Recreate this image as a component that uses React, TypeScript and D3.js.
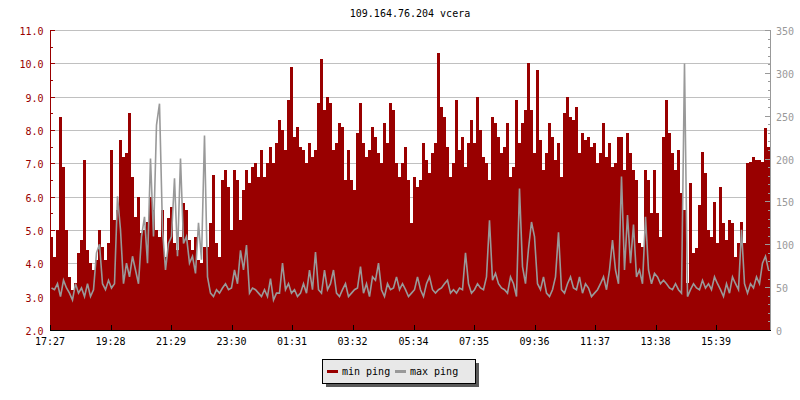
import React from 'react';
import * as d3 from 'd3';

const TITLE = '109.164.76.204 vcera';
const START_LABEL = '17:27';
const STEP_MINUTES = 6;
const DAY_MINUTES = 1440;

const timeLabels = ['17:27', '19:28', '21:29', '23:30', '01:31', '03:32', '05:34', '07:35', '09:36', '11:37', '13:38', '15:39'];
const leftTickValues = [2, 3, 4, 5, 6, 7, 8, 9, 10, 11];
const rightTickValues = [0, 50, 100, 150, 200, 250, 300, 350];
const legendLabels = ['min ping', 'max ping'];

// min ping (left axis), one value per 6 minutes
const minPing = [
  4.8, 4.2, 5.0, 8.4, 6.9, 5.0, 3.6, 3.2, 3.4, 4.3,
  4.7, 7.1, 4.4, 4.0, 3.8, 4.1, 5.0, 4.5, 4.1, 4.6,
  7.4, 5.3, 5.6, 7.7, 7.2, 7.3, 8.5, 6.6, 5.4, 6.0,
  4.9, 5.0, 5.25, 6.0, 5.6, 5.0, 4.8, 5.6, 4.2, 5.35,
  5.7, 4.6, 4.4, 4.8, 5.8, 5.6, 4.7, 4.4, 4.8, 4.1,
  4.0, 4.5, 4.5, 5.2, 6.65, 4.6, 4.2, 6.5, 6.8, 6.3,
  5.0, 6.8, 6.5, 5.3, 6.2, 6.8, 6.4, 6.9, 7.0, 6.6,
  7.4, 6.6, 7.0, 7.5, 7.0, 7.6, 8.3, 8.0, 7.4, 8.9,
  9.9, 7.8, 8.1, 7.5, 7.4, 7.0, 7.6, 7.2, 7.4, 8.8,
  10.13, 8.6, 9.0, 8.8, 7.4, 7.6, 8.2, 8.1, 6.5, 7.4,
  6.5, 6.2, 7.9, 8.8, 7.6, 7.2, 7.4, 8.1, 7.8, 7.3,
  7.0, 8.2, 7.6, 8.8, 8.6, 7.0, 6.6, 7.0, 7.5, 6.5,
  5.2, 6.6, 6.3, 6.5, 7.6, 7.1, 6.7, 7.3, 7.6, 10.3,
  8.7, 8.4, 7.5, 6.6, 7.0, 8.9, 7.4, 7.8, 6.9, 7.6,
  8.3, 7.6, 9.0, 8.0, 7.2, 7.0, 6.5, 8.4, 8.2, 7.8,
  7.3, 7.5, 8.2, 6.6, 6.9, 8.9, 7.6, 8.2, 8.6, 10.0,
  8.6, 7.3, 9.8, 7.7, 6.8, 7.3, 8.2, 7.8, 7.1, 7.6,
  6.6, 8.5, 9.0, 8.4, 8.3, 8.7, 7.3, 7.9, 7.7, 7.8,
  7.5, 7.6, 7.0, 7.3, 8.2, 7.2, 7.6, 6.9, 7.0, 7.8,
  7.8, 6.8, 7.9, 7.3, 6.8, 6.5, 4.6, 4.5, 6.8, 6.5,
  5.5, 6.8, 5.5, 4.8, 7.8, 8.9, 7.9, 7.3, 6.8, 7.4,
  6.1, 5.6, 3.4, 6.4, 4.3, 4.45, 5.75, 7.35, 6.7, 5.0,
  4.8, 5.85, 4.6, 6.3, 5.2, 4.7, 5.3, 5.2, 4.2, 4.6,
  5.25, 4.6, 7.0, 7.05, 7.2, 7.1, 7.1, 7.05, 8.05, 7.5,
];

// max ping (right axis), one value per 6 minutes
const maxPing = [
  49, 47, 54, 39, 58, 49, 43, 35, 54, 43,
  49, 39, 54, 39, 47, 90, 100, 54, 47, 58,
  49, 54, 156, 117, 54, 78, 62, 86, 70, 54,
  109, 132, 78, 200, 109, 239, 264, 117, 70, 101,
  109, 177, 86, 200, 101, 109, 78, 86, 66, 125,
  82, 227, 62, 43, 39, 47, 43, 49, 54, 47,
  49, 70, 54, 93, 70, 99, 43, 49, 47, 43,
  39, 47, 39, 60, 35, 43, 43, 78, 47, 54,
  43, 47, 39, 43, 54, 43, 70, 47, 91, 47,
  43, 70, 47, 54, 70, 43, 39, 47, 54, 39,
  43, 47, 49, 74, 43, 54, 39, 62, 58, 78,
  47, 39, 54, 47, 49, 62, 47, 54, 47, 39,
  43, 47, 62, 47, 39, 54, 62, 47, 43, 47,
  49, 54, 58, 43, 47, 43, 49, 47, 90, 54,
  43, 47, 54, 49, 47, 62, 128, 58, 66, 54,
  49, 47, 43, 62, 54, 39, 165, 74, 54, 95,
  126, 109, 54, 47, 62, 43, 39, 47, 62, 114,
  47, 43, 54, 62, 49, 47, 62, 43, 54, 49,
  39, 43, 47, 54, 62, 47, 70, 105, 70, 54,
  179, 70, 134, 78, 123, 62, 70, 54, 132, 70,
  54, 66, 62, 54, 58, 54, 49, 47, 54, 47,
  43, 311, 39, 47, 54, 49, 47, 58, 49, 54,
  47, 62, 54, 47, 39, 54, 43, 62, 54, 47,
  117, 54, 43, 54, 49, 62, 54, 78, 86, 70,
];

const RED = '#990000';
const GRAY = '#999999';
const FONT = '"DejaVu Sans Mono", "Liberation Mono", monospace';

const W = 800;
const H = 400;
const PL = 50;
const PR = 770;
const PT = 30;
const PB = 330;

const toMin = (t: string) => {
  const [h, m] = t.split(':').map(Number);
  return h * 60 + m;
};

export default function App() {
  const x = d3.scaleLinear().domain([0, DAY_MINUTES]).range([PL, PR]);
  const yL = d3.scaleLinear().domain([2, 11]).range([PB, PT]);
  const yR = d3.scaleLinear().domain([0, 350]).range([PB, PT]);
  const start = toMin(START_LABEL);
  const tickMins = timeLabels.map((t) => (toMin(t) - start + DAY_MINUTES) % DAY_MINUTES);
  const snap = (v: number) => Math.round(v) + 0.5;

  const leftMinor = d3.range(2.5, 11, 1);
  const rightMinor = d3.range(0, 351, 10).filter((v) => v % 50 !== 0);

  const line = d3
    .line<number>()
    .x((_, i) => x(i * STEP_MINUTES + STEP_MINUTES / 2))
    .y((d) => yR(d))
    .curve(d3.curveLinear);

  const legendX = 322.5;
  const legendY = 359.5;
  const legendW = 153;
  const legendH = 24;

  return (
    <svg
      width={W}
      height={H}
      style={{ position: 'absolute', left: 0, top: 0, background: '#fff' }}
      fontFamily={FONT}
      fontSize={10}
    >
      <rect x={0} y={0} width={W} height={H} fill="#fff" />
      <text x={(PL + PR) / 2} y={16.5} textAnchor="middle" fill="#000">
        {TITLE}
      </text>

      {/* grid */}
      <g shapeRendering="crispEdges">
        {leftTickValues.map((v) => (
          <line key={'g' + v} x1={PL} x2={PR} y1={snap(yL(v))} y2={snap(yL(v))} stroke="#c0c0c0" />
        ))}
      </g>

      {/* min ping bars */}
      <g shapeRendering="crispEdges" fill={RED}>
        {minPing.map((v, i) => {
          const x0 = x(i * STEP_MINUTES);
          const x1 = x((i + 1) * STEP_MINUTES);
          const y0 = Math.round(yL(v));
          return <rect key={i} x={x0} y={y0} width={x1 - x0} height={PB + 1 - y0} />;
        })}
      </g>

      {/* max ping line */}
      <path d={line(maxPing) || ''} fill="none" stroke={GRAY} strokeWidth={1.6} strokeLinejoin="miter" />

      {/* left axis */}
      <g shapeRendering="crispEdges">
        <line x1={PL + 0.5} x2={PL + 0.5} y1={PT} y2={PB + 1} stroke={RED} />
        {leftTickValues.map((v) => (
          <line key={'lt' + v} x1={PL} x2={PL + 5} y1={snap(yL(v))} y2={snap(yL(v))} stroke={RED} />
        ))}
        {leftMinor.map((v) => (
          <line key={'lm' + v} x1={PL} x2={PL + 3} y1={snap(yL(v))} y2={snap(yL(v))} stroke={RED} />
        ))}
      </g>
      {leftTickValues.map((v) => (
        <text key={'ll' + v} x={43.5} y={snap(yL(v)) + 4} textAnchor="end" fill={RED}>
          {d3.format('.1f')(v)}
        </text>
      ))}

      {/* right axis */}
      <g shapeRendering="crispEdges">
        <line x1={PR + 0.5} x2={PR + 0.5} y1={PT} y2={PB + 1} stroke={GRAY} />
        {rightTickValues.map((v) => (
          <line key={'rt' + v} x1={PR - 5} x2={PR + 1} y1={snap(yR(v))} y2={snap(yR(v))} stroke={GRAY} />
        ))}
        {rightMinor.map((v) => (
          <line key={'rm' + v} x1={PR - 2} x2={PR + 1} y1={snap(yR(v))} y2={snap(yR(v))} stroke={GRAY} />
        ))}
      </g>
      {rightTickValues.map((v) => (
        <text key={'rl' + v} x={776} y={snap(yR(v)) + 4} textAnchor="start" fill={GRAY}>
          {String(v)}
        </text>
      ))}

      {/* bottom axis */}
      <g shapeRendering="crispEdges">
        <line x1={PL} x2={PR + 1} y1={PB + 0.5} y2={PB + 0.5} stroke="#000" />
        {tickMins.map((m, i) => (
          <line key={'xt' + i} x1={snap(x(m))} x2={snap(x(m))} y1={PB - 5} y2={PB + 1} stroke="#000" />
        ))}
      </g>
      {tickMins.map((m, i) => (
        <text key={'xl' + i} x={x(m)} y={345} textAnchor="middle" fill="#000">
          {timeLabels[i]}
        </text>
      ))}

      {/* legend */}
      <g shapeRendering="crispEdges">
        <rect x={legendX + 3} y={legendY + 3} width={legendW} height={legendH} fill="#5a5a5a" />
        <rect x={legendX} y={legendY} width={legendW} height={legendH} fill="#e8e8e8" stroke="#000" />
        <rect x={327} y={370} width={11} height={3} fill={RED} />
        <rect x={395} y={370} width={11} height={3} fill={GRAY} />
      </g>
      <text x={342} y={375} fill="#000">{legendLabels[0]}</text>
      <text x={410} y={375} fill="#000">{legendLabels[1]}</text>
    </svg>
  );
}
